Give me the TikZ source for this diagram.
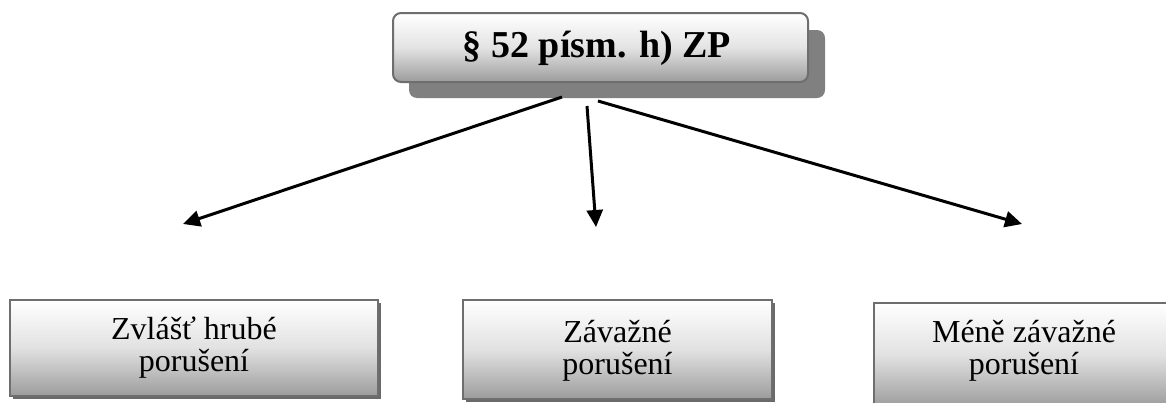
\documentclass[tikz,border=0pt]{standalone}
\usepackage{fontspec}
\setmainfont{Liberation Serif}
\usetikzlibrary{arrows.meta}
\definecolor{edgegray}{HTML}{6E6E6E}
\definecolor{shadowgray}{HTML}{808080}
\definecolor{smallshadow}{HTML}{6A6A6A}
\definecolor{fillbottom}{HTML}{9C9C9C}
\tikzset{
  headbox/.style={draw=edgegray, line width=2pt, rounded corners=8pt,
    top color=white, bottom color=fillbottom, middle color=white!72!fillbottom},
  headtext/.style={font=\fontsize{38}{42}\selectfont\bfseries, inner sep=0pt},
  headshadow/.style={fill=shadowgray, rounded corners=8pt},
  itembox/.style={draw=edgegray, line width=2pt,
    top color=white, bottom color=fillbottom, middle color=white!70!fillbottom},
  itemshadow/.style={fill=smallshadow},
  itemtext/.style={font=\fontsize{32}{32}\selectfont, align=center, inner sep=0pt},
  branch/.style={line width=3pt, -{Triangle[length=17pt,width=16pt]}}
}
\begin{document}
\begin{tikzpicture}[x=1pt,y=-1pt]
\useasboundingbox (0,0) rectangle (1166,402);
\clip (0,0) rectangle (1166,402);
\fill[white] (0,0) rectangle (1166,402);

% heading box with its offset shadow
\fill[headshadow] (409,30) rectangle (825,98);
\draw[headbox] (393,13) rectangle (808,82);
\node[headtext] (head) at (597,48) {§ 52 písm. h) ZP};

% the three categories
\fill[itemshadow] (13,303) rectangle (381,399);
\draw[itembox] (10,300) rectangle (378,396);
\node[itemtext] (zvl) at (194,348) {Zvlášť hrubé\\porušení};

\fill[itemshadow] (466,303) rectangle (775,402);
\draw[itembox] (463,300) rectangle (772,399);
\node[itemtext] (zav) at (617.5,351) {Závažné\\porušení};

\fill[itemshadow] (877,306) rectangle (1177,410);
\draw[itembox] (874,303) rectangle (1174,407);
\node[itemtext] (men) at (1024,351) {Méně závažné\\porušení};

% arrows leaving the heading
\coordinate (s1) at (562,97);
\coordinate (s2) at (587,106);
\coordinate (s3) at (598,101);
\coordinate (t1) at (183,224);
\coordinate (t2) at (596,227);
\coordinate (t3) at (1022,224);
\draw[branch] (s1) -- (t1);
\draw[branch] (s2) -- (t2);
\draw[branch] (s3) -- (t3);
\end{tikzpicture}
\end{document}
